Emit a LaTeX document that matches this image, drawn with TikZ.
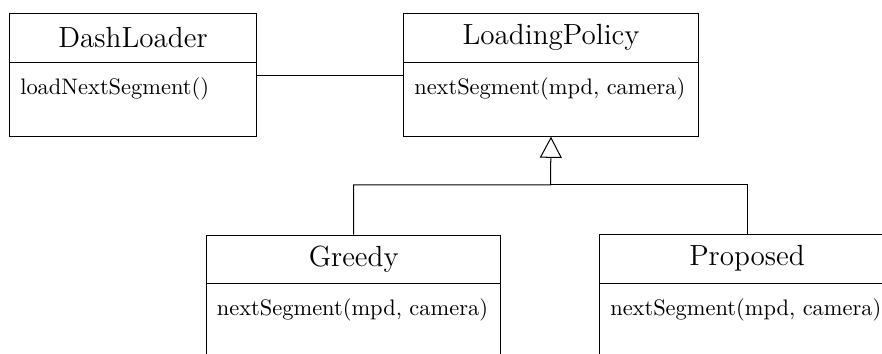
\documentclass[tikz,border=0pt]{standalone}
\usetikzlibrary{arrows.meta}
\tikzset{
  classbox/.style={draw, line width=0.45pt, inner sep=0pt, anchor=north west, minimum height=54.6pt},
  classtitle/.style={font=\fontsize{13}{16}\selectfont, inner sep=0pt},
  classop/.style={font=\fontsize{10}{12}\selectfont, anchor=base west, inner sep=0pt},
  link/.style={line width=0.45pt},
  inherit/.style={line width=0.45pt, -{Triangle[open, length=9.4pt, width=9.8pt]}},
}
\newcommand\umlcls[6]{%
  \node[classbox, minimum width=#4] (#1) at (#2,#3) {};
  \draw[link] ([yshift=-21.85pt]#1.north west) -- ([yshift=-21.85pt]#1.north east);
  \node[classtitle] (#1-t) at ([yshift=-10.9pt]#1.north) {#5};
  \node[classop] (#1-o) at ([xshift=4.7pt,yshift=-36.2pt]#1.north west) {#6};
}
\begin{document}
\begin{tikzpicture}[x=0.446pt, y=-0.446pt]
  \useasboundingbox (0,0) rectangle (882,354);
  \clip (0,0) rectangle (882,354);
  \umlcls{dl}{9.3}{13.3}{109.9pt}{DashLoader}{loadNextSegment()}
  \umlcls{lp}{403.3}{13.3}{131.3pt}{LoadingPolicy}{nextSegment(mpd, camera)}
  \umlcls{greedy}{206}{234.7}{131.3pt}{Greedy}{nextSegment(mpd, camera)}
  \umlcls{proposed}{599.3}{234.2}{131.3pt}{Proposed}{nextSegment(mpd, camera)}
  \draw[link] (dl.east) -- (lp.west);
  \coordinate (j) at (550.5,185);
  \draw[inherit] (greedy.north) |- (j) -- (lp.south);
  \draw[link] (proposed.north) |- (j);
\end{tikzpicture}
\end{document}
